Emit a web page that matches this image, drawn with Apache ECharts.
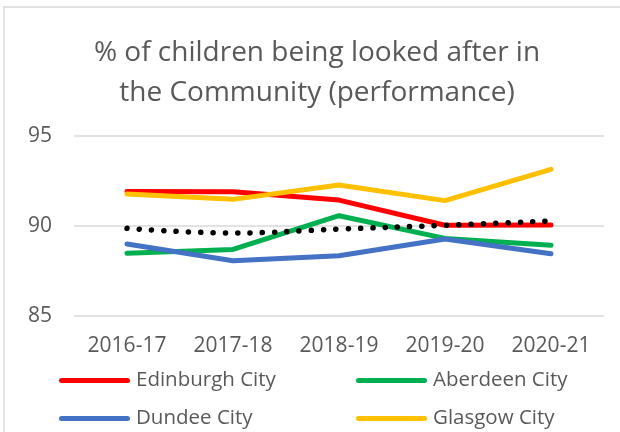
<!DOCTYPE html>
<html>
<head>
<meta charset="utf-8">
<script src="https://cdn.jsdelivr.net/npm/echarts@6/dist/echarts.min.js"></script>
<style>
html,body{margin:0;padding:0;background:#fff;}
#chart{width:620px;height:432px;}
</style>
</head>
<body>
<div id="chart"></div>
<script>
const titleText = '% of children being looked after in\nthe Community (performance)';
const categories = ['2016-17', '2017-18', '2018-19', '2019-20', '2020-21'];
const edinburgh = [91.91, 91.90, 91.44, 90.04, 90.06];
const aberdeen = [88.48, 88.70, 90.57, 89.31, 88.93];
const dundee = [89.00, 88.07, 88.35, 89.28, 88.46];
const glasgow = [91.78, 91.48, 92.28, 91.41, 93.15];
const trend = [89.87, 89.61, 89.83, 90.04, 90.28];
const yTicks = [85, 90, 95];

const FONT = 'Open Sans';
const TXT = '#595959';
const LEGEND_ICON = 'path://M2.5,0 L68.5,0 A2.5,2.5 0 0 1 68.5,5 L2.5,5 A2.5,2.5 0 0 1 2.5,0 Z';

const chart = echarts.init(document.getElementById('chart'), null, {renderer: 'canvas'});

function lineSeries(name, data, color, z) {
  return {
    name: name, type: 'line', data: data, symbol: 'none', showSymbol: false, z: z,
    lineStyle: {color: color, width: 5, cap: 'round', join: 'round'},
    itemStyle: {color: color},
    emphasis: {disabled: true}
  };
}

function legendAt(name, left, top) {
  return {
    data: [{name: name, icon: LEGEND_ICON}], left: left, top: top, orient: 'horizontal',
    itemWidth: 71, itemHeight: 5, itemGap: 0,
    textStyle: {color: TXT, fontFamily: FONT, fontSize: 20.5, padding: [0, 0, 0, 1]},
    padding: 0, selectedMode: false
  };
}

chart.setOption({
  animation: false,
  backgroundColor: '#ffffff',
  graphic: [{
    type: 'rect', shape: {x: 4, y: 7, width: 700, height: 500},
    style: {fill: 'none', stroke: '#D9D9D9', lineWidth: 1.5}, silent: true
  }],
  title: {
    text: titleText, left: 312, top: 28, textAlign: 'center',
    textStyle: {color: TXT, fontFamily: FONT, fontSize: 28, fontWeight: 'normal', lineHeight: 40, align: 'center'}
  },
  grid: {left: 74, right: 16, top: 136, bottom: 116, containLabel: false},
  xAxis: {
    type: 'category', data: categories, boundaryGap: true,
    axisLine: {show: false}, axisTick: {show: false},
    axisLabel: {color: TXT, fontFamily: FONT, fontSize: 21, margin: 20}
  },
  yAxis: {
    type: 'value', min: yTicks[0], max: yTicks[yTicks.length - 1], interval: 5,
    axisLine: {show: false}, axisTick: {show: false},
    axisLabel: {color: TXT, fontFamily: FONT, fontSize: 21, margin: 22},
    splitLine: {lineStyle: {color: '#D9D9D9', width: 1.5}}
  },
  legend: [
    legendAt('Edinburgh City', 59, 370),
    legendAt('Aberdeen City', 356, 370),
    legendAt('Dundee City', 59, 408),
    legendAt('Glasgow City', 356, 408)
  ],
  series: [
    lineSeries('Edinburgh City', edinburgh, '#FF0000', 2),
    lineSeries('Aberdeen City', aberdeen, '#00B050', 3),
    lineSeries('Dundee City', dundee, '#4472C4', 4),
    lineSeries('Glasgow City', glasgow, '#FFC000', 5),
    {
      name: 'Trend', type: 'line', data: trend, symbol: 'none', smooth: 0.4, z: 6,
      lineStyle: {color: '#000000', width: 5.5, type: [0.1, 12.2], cap: 'round'},
      emphasis: {disabled: true}
    }
  ]
});
</script>
</body>
</html>
